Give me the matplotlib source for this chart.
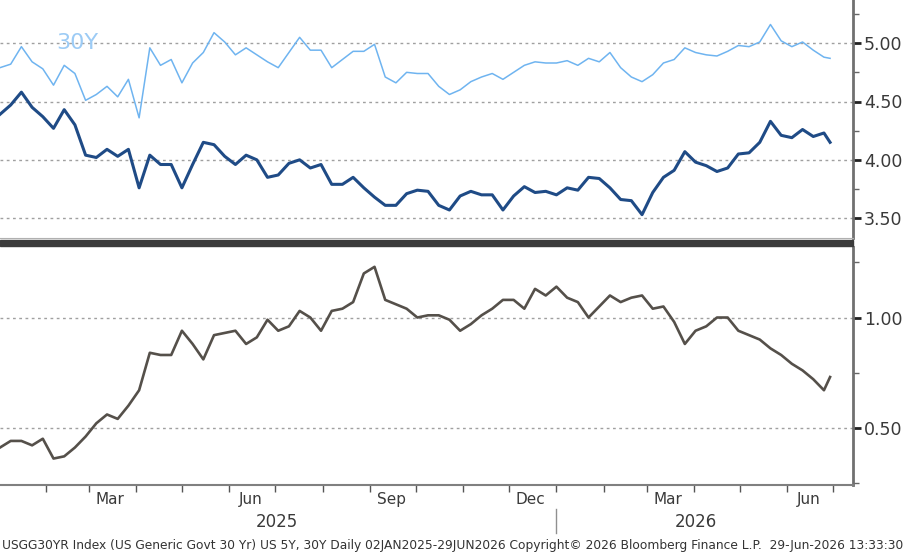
import numpy as np
import pandas as pd
import matplotlib
matplotlib.use('Agg')
import matplotlib.pyplot as plt
import matplotlib.dates as mdates
from matplotlib.ticker import FixedLocator, MultipleLocator
from matplotlib.patches import Rectangle

dates = list(pd.date_range('2025-01-02', periods=78, freq='7D')) + [pd.Timestamp('2026-06-29')]

y30 = [4.79, 4.82, 4.97, 4.84, 4.78, 4.64, 4.81, 4.74, 4.51, 4.56,
       4.63, 4.54, 4.69, 4.36, 4.96, 4.81, 4.86, 4.66, 4.83, 4.92,
       5.09, 5.01, 4.90, 4.96, 4.90, 4.84, 4.79, 4.92, 5.05, 4.94,
       4.94, 4.79, 4.86, 4.93, 4.93, 4.99, 4.71, 4.66, 4.75, 4.74,
       4.74, 4.63, 4.56, 4.60, 4.67, 4.71, 4.74, 4.69, 4.75, 4.81,
       4.84, 4.83, 4.83, 4.85, 4.81, 4.87, 4.84, 4.92, 4.79, 4.71,
       4.67, 4.73, 4.83, 4.86, 4.96, 4.92, 4.90, 4.89, 4.93, 4.98,
       4.97, 5.01, 5.16, 5.02, 4.97, 5.01, 4.94, 4.88, 4.87]

y5 = [4.39, 4.47, 4.58, 4.45, 4.37, 4.27, 4.43, 4.30, 4.04, 4.02,
      4.09, 4.03, 4.09, 3.76, 4.04, 3.96, 3.96, 3.76, 3.96, 4.15,
      4.13, 4.03, 3.96, 4.04, 4.00, 3.85, 3.87, 3.97, 4.00, 3.93,
      3.96, 3.79, 3.79, 3.85, 3.76, 3.68, 3.61, 3.61, 3.71, 3.74,
      3.73, 3.61, 3.57, 3.69, 3.73, 3.70, 3.70, 3.57, 3.69, 3.77,
      3.72, 3.73, 3.70, 3.76, 3.74, 3.85, 3.84, 3.76, 3.66, 3.65,
      3.53, 3.72, 3.85, 3.91, 4.07, 3.98, 3.95, 3.90, 3.93, 4.05,
      4.06, 4.15, 4.33, 4.21, 4.19, 4.26, 4.20, 4.23, 4.15]

spread = [0.41, 0.44, 0.44, 0.42, 0.45, 0.36, 0.37, 0.41, 0.46, 0.52,
          0.56, 0.54, 0.60, 0.67, 0.84, 0.83, 0.83, 0.94, 0.88, 0.81,
          0.92, 0.93, 0.94, 0.88, 0.91, 0.99, 0.94, 0.96, 1.03, 1.00,
          0.94, 1.03, 1.04, 1.07, 1.20, 1.23, 1.08, 1.06, 1.04, 1.00,
          1.01, 1.01, 0.99, 0.94, 0.97, 1.01, 1.04, 1.08, 1.08, 1.04,
          1.13, 1.10, 1.14, 1.09, 1.07, 1.00, 1.05, 1.10, 1.07, 1.09,
          1.10, 1.04, 1.05, 0.98, 0.88, 0.94, 0.96, 1.00, 1.00, 0.94,
          0.92, 0.90, 0.86, 0.83, 0.79, 0.76, 0.72, 0.67, 0.73]

top_ticks = [3.50, 4.00, 4.50, 5.00]
bottom_ticks = [0.50, 1.00]
month_labels = ['2025-03-15', '2025-06-15', '2025-09-15', '2025-12-15', '2026-03-15', '2026-06-15']
footer = ('USGG30YR Index (US Generic Govt 30 Yr) US 5Y, 30Y Daily 02JAN2025-29JUN2026 '
          'Copyright\u00a9 2026 Bloomberg Finance L.P.  29-Jun-2026 13:33:30')

c30 = '#6fb4f0'
c5 = '#1f4b86'
cspr = '#55504a'
txt = '#3a3a3a'
grid_c = '#a0a0a0'

W, H = 910, 554
fig = plt.figure(figsize=(W / 100, H / 100), dpi=100)

x0 = pd.Timestamp('2025-01-02')
x1 = pd.Timestamp('2026-07-14')
right = 853 / W

ax1 = fig.add_axes([0, 1 - 238 / H, right, 238 / H])
ax2 = fig.add_axes([0, 1 - 485 / H, right, (485 - 247) / H])

ax1.plot(dates, y30, color=c30, lw=1.1)
ax1.plot(dates, y5, color=c5, lw=2.2)
ax2.plot(dates, spread, color=cspr, lw=1.9)

ax1.set_ylim(3.33, 5.37)
ax2.set_ylim(0.24, 1.32)

for ax, ticks in ((ax1, top_ticks), (ax2, bottom_ticks)):
    ax.set_xlim(x0, x1)
    ax.yaxis.tick_right()
    ax.set_yticks(ticks)
    ax.set_yticklabels([f'{t:.2f}' for t in ticks])
    ax.yaxis.set_minor_locator(MultipleLocator(0.25))
    ax.tick_params(axis='y', which='major', length=6, width=2, color='#222222',
                   labelsize=12.5, labelcolor=txt, pad=2)
    ax.tick_params(axis='y', which='minor', length=4, width=1, color='#666666')
    for t in ticks:
        ax.axhline(t, color=grid_c, lw=1.0, ls=(0, (2, 2.5)), zorder=0)
    for s in ('top', 'left'):
        ax.spines[s].set_visible(False)
    ax.spines['right'].set_color('#707070')
    ax.spines['right'].set_linewidth(2)

ax1.spines['bottom'].set_color('#b0b0b0')
ax1.set_xticks([])

ax2.spines['bottom'].set_color('#808080')
ax2.spines['bottom'].set_linewidth(1.5)
ax2.xaxis.set_major_locator(mdates.MonthLocator())
ax2.xaxis.set_major_formatter(plt.NullFormatter())
ax2.xaxis.set_minor_locator(FixedLocator(mdates.date2num(pd.to_datetime(month_labels))))
ax2.xaxis.set_minor_formatter(mdates.DateFormatter('%b'))
ax2.tick_params(axis='x', which='major', length=5, width=1, color='#555555')
ax2.tick_params(axis='x', which='minor', length=0, labelsize=11, labelcolor=txt, pad=5)

# year labels and year divider
ax2.text(pd.Timestamp('2025-07-02'), -0.155, '2025', transform=ax2.get_xaxis_transform(),
         ha='center', va='center', fontsize=12, color=txt)
ax2.text(pd.Timestamp('2026-04-02'), -0.155, '2026', transform=ax2.get_xaxis_transform(),
         ha='center', va='center', fontsize=12, color=txt)
ax2.plot([pd.Timestamp('2026-01-01')] * 2, [-0.1, -0.2], transform=ax2.get_xaxis_transform(),
         color='#909090', lw=1, clip_on=False)

ax1.text(0.066, 0.82, '30Y', transform=ax1.transAxes, color='#9ccbf5', fontsize=16,
         ha='left', va='center')

# dark separator between panels
fig.patches.append(Rectangle((0, 1 - 245.5 / H), right, 6 / H, transform=fig.transFigure,
                             color='#3b3b3b', zorder=5))

fig.text(0.002, 1 - 546 / H, footer, fontsize=8.8, color='#333333', ha='left', va='center')

fig.savefig('out.png', dpi=100)
